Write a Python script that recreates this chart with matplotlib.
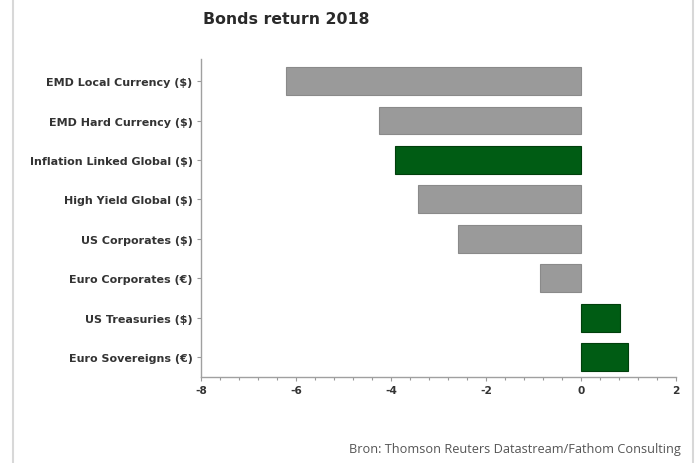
import matplotlib
matplotlib.use("Agg")
import matplotlib.pyplot as plt
from matplotlib.lines import Line2D
from matplotlib.ticker import MultipleLocator

categories = ["EMD Local Currency ($)", "EMD Hard Currency ($)", "Inflation Linked Global ($)",
              "High Yield Global ($)", "US Corporates ($)", "Euro Corporates (€)",
              "US Treasuries ($)", "Euro Sovereigns (€)"]
values = [-6.2, -4.25, -3.92, -3.43, -2.6, -0.86, 0.82, 0.99]
highlight = [False, False, True, False, False, False, True, True]
xticks = [-8, -6, -4, -2, 0, 2]

GRAY = "#9a9a9a"
GRAY_EDGE = "#8a8a8a"
GREEN = "#005c14"
GREEN_EDGE = "#003f0c"
FONT = "DejaVu Sans"

fig = plt.figure(figsize=(6.95, 4.64), dpi=100)
ax = fig.add_axes([0.2892, 0.1853, 0.6835, 0.6853])

colors = [GREEN if h else GRAY for h in highlight]
edges = [GREEN_EDGE if h else GRAY_EDGE for h in highlight]
ax.barh(range(len(categories)), values, height=0.71, color=colors, edgecolor=edges, linewidth=0.8)

ax.set_xlim(-8, 2)
ax.set_ylim(7.51, -0.56)
ax.set_yticks(range(len(categories)))
ax.set_yticklabels(categories, fontsize=8.0, fontweight="bold", color="#333333", family=FONT)
ax.set_xticks(xticks)
ax.set_xticklabels([str(v) for v in xticks], fontsize=7.6, fontweight="bold", color="#333333", family=FONT)
ax.xaxis.set_minor_locator(MultipleLocator(0.4))
ax.tick_params(axis="both", which="both", direction="out", color="#999999", length=3, width=0.8)
ax.tick_params(axis="x", which="minor", length=2)
ax.tick_params(axis="x", pad=3)
ax.tick_params(axis="y", pad=3)

for s in ["top", "right"]:
    ax.spines[s].set_visible(False)
for s in ["left", "bottom"]:
    ax.spines[s].set_color("#a0a0a0")
    ax.spines[s].set_linewidth(1.0)

fig.text(203 / 695, 1 - 20 / 464, "Bonds return 2018", fontsize=11.3, fontweight="bold",
         color="#2a2a2a", family=FONT, ha="left", va="center")

fig.text(681 / 695, 1 - 450 / 464, "Bron: Thomson Reuters Datastream/Fathom Consulting",
         fontsize=9.2, color="#555555", family="Open Sans", ha="right", va="center")

fig.add_artist(Line2D([13.5 / 695, 13.5 / 695], [0, 1], transform=fig.transFigure, color="#d8d8d8", linewidth=1.5))
fig.add_artist(Line2D([692.5 / 695, 692.5 / 695], [0, 1], transform=fig.transFigure, color="#d8d8d8", linewidth=1.5))

fig.savefig("out.png", dpi=100)
